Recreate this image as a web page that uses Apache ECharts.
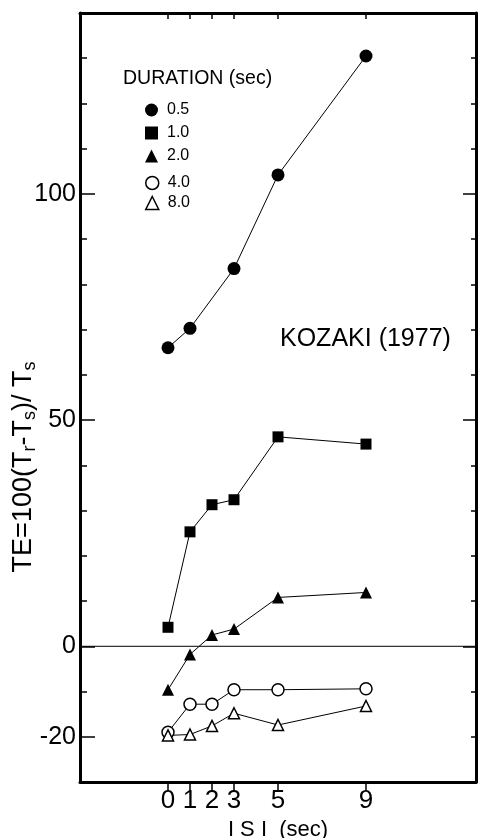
<!DOCTYPE html>
<html>
<head>
<meta charset="utf-8">
<script src="https://cdn.jsdelivr.net/npm/echarts@6/dist/echarts.min.js"></script>
<style>
  html, body { margin: 0; padding: 0; background: #fff; }
  #chart { width: 481px; height: 838px; }
</style>
</head>
<body>
<div id="chart"></div>
<script>
  // ISI values (sec)
  const isi = [0, 1, 2, 3, 5, 9]
  // TE per duration, null where no point was plotted
  const dur05 = [66, 70.3, null, 83.5, 104.2, 130.5]
  const dur10 = [4.2, 25.3, 31.3, 32.4, 46.3, 44.7]
  const dur20 = [-9.6, -1.8, 2.5, 3.8, 10.8, 11.9]
  const dur40 = [-19, -12.8, -12.8, -9.6, -9.6, -9.4]
  const dur80 = [-19.7, -19.5, -17.6, -14.8, -17.4, -13.2]
  const durationNames = ['0.5', '1.0', '2.0', '4.0', '8.0']
  const yLabelValues = [-20, 0, 50, 100]
  const yMajorRight = [0, 50, 100]

  const font = 'Liberation Sans'

  function pairs(vals) {
    const out = []
    vals.forEach(function (v, i) {
      if (v !== null) out.push([isi[i], v])
    })
    return out
  }

  const markers = [
    { symbol: 'circle', size: 13, fill: '#000' },
    { symbol: 'rect', size: 11, fill: '#000' },
    { symbol: 'triangle', size: 12, fill: '#000' },
    { symbol: 'circle', size: 12, fill: '#fff' },
    { symbol: 'triangle', size: 11, fill: '#fff' }
  ]
  const allData = [dur05, dur10, dur20, dur40, dur80]

  const seriesList = allData.map(function (vals, k) {
    const m = markers[k]
    return {
      type: 'line',
      name: durationNames[k],
      data: pairs(vals),
      xAxisIndex: 0,
      yAxisIndex: 0,
      symbol: m.symbol,
      symbolSize: m.size,
      showSymbol: true,
      lineStyle: { color: '#000', width: 1 },
      itemStyle: { color: m.fill, borderColor: '#000', borderWidth: m.fill === '#fff' ? 1.5 : 0 },
      emphasis: { disabled: true },
      z: 3
    }
  })
  // zero line
  seriesList.push({
    type: 'line',
    data: [[-4, 0], [14, 0]],
    symbol: 'none',
    lineStyle: { color: '#000', width: 1 },
    z: 1,
    silent: true
  })

  // legend entries, filled and open markers are grouped a bit apart
  const legendItems = markers.map(function (m, k) {
    const open = m.fill === '#fff'
    return {
      name: durationNames[k],
      icon: m.symbol,
      itemStyle: open ? { color: '#fff', borderColor: '#000', borderWidth: 1.5 } : { color: '#000', borderWidth: 0 }
    }
  })
  const legendStyle = {
    orient: 'vertical',
    left: 140,
    itemWidth: 13, itemHeight: 13,
    itemGap: 7,
    textStyle: { fontFamily: font, fontSize: 16, color: '#000', padding: [0, 0, 0, 4] },
    selectedMode: false
  }

  const chart = echarts.init(document.getElementById('chart'))

  const option = {
    backgroundColor: '#fff',
    animation: false,
    textStyle: { fontFamily: font, color: '#000' },
    grid: { left: 80, right: 5, top: 13, bottom: 56, containLabel: false, outerBoundsMode: 'none' },
    title: [
      {
        text: 'DURATION (sec)',
        left: 118, top: 64,
        textStyle: { fontFamily: font, fontSize: 19.5, fontWeight: 'normal', color: '#000' }
      },
      {
        text: 'KOZAKI (1977)',
        left: 275, top: 322,
        textStyle: { fontFamily: font, fontSize: 25, fontWeight: 'normal', color: '#000' }
      }
    ],
    legend: [
      Object.assign({}, legendStyle, { top: 97, data: legendItems.slice(0, 3) }),
      Object.assign({}, legendStyle, { top: 170, itemGap: 4, data: legendItems.slice(3) })
    ],
    xAxis: [
      {
        type: 'value', position: 'bottom',
        min: -4, max: 14, interval: 1,
        name: 'I S I  (sec)',
        nameLocation: 'middle', nameGap: 34,
        nameTextStyle: { fontFamily: font, fontSize: 22, color: '#000' },
        axisLine: { onZero: false, lineStyle: { color: '#000', width: 3 } },
        axisTick: { show: true, inside: false, length: 9, customValues: isi, lineStyle: { color: '#000', width: 1.5 } },
        axisLabel: { customValues: isi, fontSize: 26, color: '#000', margin: 6, fontFamily: font },
        splitLine: { show: false }
      },
      {
        type: 'value', position: 'top',
        min: -4, max: 14, interval: 1,
        axisLine: { onZero: false, lineStyle: { color: '#000', width: 3 } },
        axisTick: { show: true, inside: true, length: 6, customValues: isi, lineStyle: { color: '#000', width: 1.5 } },
        axisLabel: { show: false },
        splitLine: { show: false }
      }
    ],
    yAxis: [
      {
        type: 'value', position: 'left',
        min: -30, max: 140, interval: 10,
        axisLine: { show: true, onZero: false, lineStyle: { color: '#000', width: 3 } },
        axisTick: { show: true, inside: true, length: 15, customValues: yLabelValues, lineStyle: { color: '#000', width: 1.5 } },
        axisLabel: { customValues: yLabelValues, fontSize: 25, color: '#000', margin: 4, fontFamily: font },
        splitLine: { show: false }
      },
      {
        type: 'value', position: 'left',
        min: -30, max: 140, interval: 10,
        axisLine: { show: false, onZero: false },
        axisTick: { show: true, inside: true, length: 7, lineStyle: { color: '#000', width: 1.5 } },
        axisLabel: { show: false },
        splitLine: { show: false }
      },
      {
        type: 'value', position: 'right',
        min: -30, max: 140, interval: 10,
        axisLine: { show: true, onZero: false, lineStyle: { color: '#000', width: 3 } },
        axisTick: { show: true, inside: true, length: 5, lineStyle: { color: '#000', width: 1.5 } },
        axisLabel: { show: false },
        splitLine: { show: false }
      },
      {
        type: 'value', position: 'right',
        min: -30, max: 140, interval: 10,
        axisLine: { show: false, onZero: false },
        axisTick: { show: true, inside: true, length: 13, customValues: yMajorRight, lineStyle: { color: '#000', width: 1.5 } },
        axisLabel: { show: false },
        splitLine: { show: false }
      }
    ],
    graphic: [
      {
        type: 'text',
        x: 24, y: 467,
        rotation: Math.PI / 2,
        style: {
          text: '{m|TE=100(T}{s|r}{m|-T}{s|s}{m|)/ T}{s|s}',
          align: 'center',
          verticalAlign: 'middle',
          rich: {
            m: { fontFamily: font, fontSize: 27, lineHeight: 30, verticalAlign: 'middle', fill: '#000' },
            s: { fontFamily: font, fontSize: 18, lineHeight: 18, verticalAlign: 'bottom', fill: '#000' }
          }
        }
      }
    ],
    series: seriesList
  }

  chart.setOption(option)
</script>
</body>
</html>
